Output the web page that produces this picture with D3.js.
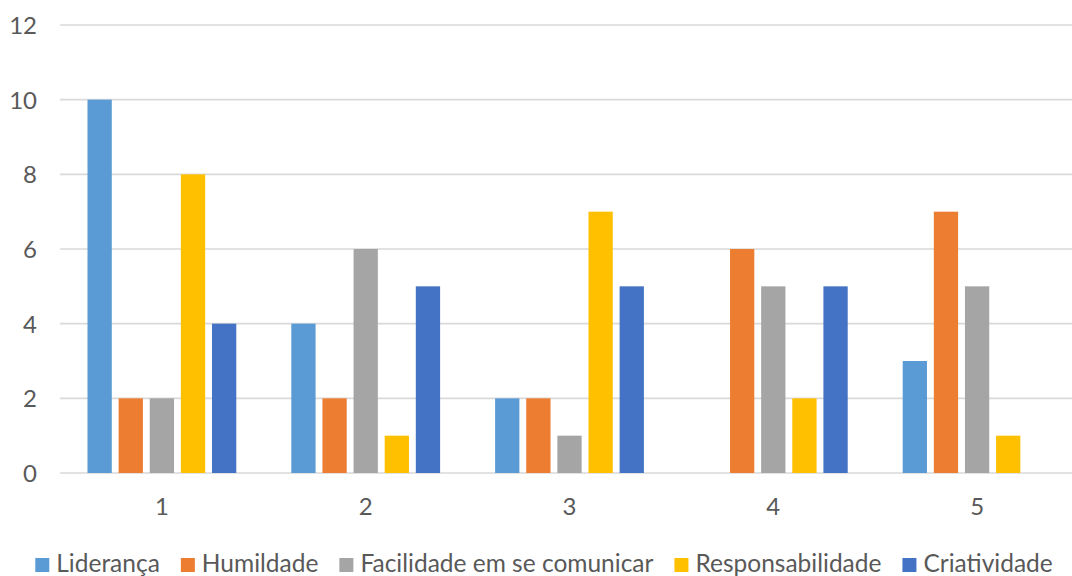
<!DOCTYPE html>
<html>
<head>
<meta charset="utf-8">
<script src="https://cdn.jsdelivr.net/npm/d3@7"></script>
<style>
  html, body { margin: 0; padding: 0; background: #fff; }
  svg { display: block; }
  text { font-family: "Lato", "Open Sans", sans-serif; fill: #595959; }
</style>
</head>
<body>
<svg id="chart" width="1072" height="576"></svg>
<script>
// Categories along the x axis
const categories = ["1", "2", "3", "4", "5"];

// Series names (legend order)
const seriesNames = ["Liderança", "Humildade", "Facilidade em se comunicar", "Responsabilidade", "Criatividade"];

// Values per series, one per category
const lideranca        = [10, 4, 2, 0, 3];
const humildade        = [2, 2, 2, 6, 7];
const facilidade       = [2, 6, 1, 5, 5];
const responsabilidade = [8, 1, 7, 2, 1];
const criatividade     = [4, 5, 5, 5, 0];

const yTicks = [0, 2, 4, 6, 8, 10, 12];

const seriesValues = [lideranca, humildade, facilidade, responsabilidade, criatividade];
const colors = ["#5B9BD5", "#ED7D31", "#A5A5A5", "#FFC000", "#4472C4"];

const svg = d3.select("#chart");

const plot = { left: 60, right: 1079, top: 25, bottom: 473 };

const y = d3.scaleLinear().domain([0, 12]).range([plot.bottom, plot.top]);
const x0 = d3.scaleBand().domain(categories).range([plot.left, plot.right]).padding(0);
const groupPad = 27.5;
const x1 = d3.scaleBand()
  .domain(seriesNames)
  .range([groupPad, x0.bandwidth() - groupPad])
  .paddingInner(0.22)
  .paddingOuter(0);

// Horizontal gridlines
svg.append("g")
  .selectAll("line")
  .data(yTicks)
  .join("line")
  .attr("x1", plot.left)
  .attr("x2", 1072)
  .attr("y1", d => y(d))
  .attr("y2", d => y(d))
  .attr("stroke", "#D9D9D9")
  .attr("stroke-width", 1.6);

// Y axis labels
const yAxis = d3.axisLeft(y).tickValues(yTicks).tickSize(0).tickPadding(0);
const gy = svg.append("g").attr("transform", "translate(37,0)").call(yAxis);
gy.select(".domain").remove();
gy.selectAll("text")
  .attr("font-size", 24)
  .attr("dy", "0.35em")
  .style("font-family", "Lato, 'Open Sans', sans-serif")
  .attr("fill", "#595959");

// Bars
const groups = svg.append("g")
  .selectAll("g")
  .data(categories)
  .join("g")
  .attr("transform", d => `translate(${x0(d)},0)`);

groups.selectAll("rect")
  .data((c, i) => seriesNames.map((s, k) => ({ series: s, value: seriesValues[k][i], color: colors[k] })))
  .join("rect")
  .attr("x", d => x1(d.series))
  .attr("width", x1.bandwidth())
  .attr("y", d => y(d.value))
  .attr("height", d => y(0) - y(d.value))
  .attr("fill", d => d.color);

// X axis labels
const xAxis = d3.axisBottom(x0).tickSize(0).tickPadding(0);
const gx = svg.append("g").attr("transform", "translate(0,515)").call(xAxis);
gx.select(".domain").remove();
gx.selectAll("text")
  .attr("font-size", 24)
  .attr("dy", 0)
  .style("font-family", "Lato, 'Open Sans', sans-serif")
  .attr("fill", "#595959");

// Legend
const legend = svg.append("g");
const fontSize = 24.5, marker = 14, markerGap = 7, itemGap = 21;
const items = legend.selectAll("g")
  .data(seriesNames)
  .join("g");
items.append("rect")
  .attr("width", marker)
  .attr("height", marker)
  .attr("y", 558)
  .attr("fill", (d, i) => colors[i]);
items.append("text")
  .attr("x", marker + markerGap)
  .attr("y", 572)
  .attr("font-size", fontSize)
  .text(d => d);

let widths = [];
items.each(function () {
  widths.push(marker + markerGap + d3.select(this).select("text").node().getComputedTextLength());
});
const total = d3.sum(widths) + itemGap * (widths.length - 1);
let cx = (1088 - total) / 2;
items.attr("transform", (d, i) => {
  const t = `translate(${cx},0)`;
  cx += widths[i] + itemGap;
  return t;
});
</script>
</body>
</html>
